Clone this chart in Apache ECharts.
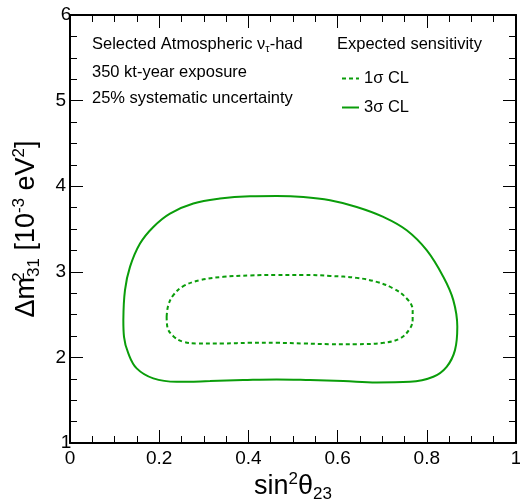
<!DOCTYPE html>
<html><head><meta charset="utf-8">
<script src="https://cdn.jsdelivr.net/npm/echarts@6/dist/echarts.min.js"></script>
<style>html,body{margin:0;padding:0;background:#fff}#c{width:520px;height:499px}</style>
</head><body><div id="c"></div>
<script>
// 3 sigma contour (sin^2 theta23, dm2_31 [1e-3 eV^2])
const sigma3X = [0.1196,0.1233,0.1345,0.157,0.1868,0.2242,0.2765,0.3363,0.4036,0.4634,0.5232,0.583,0.6428,0.7025,0.7549,0.7997,0.837,0.8594,0.8684,0.8632,0.8445,0.8146,0.7623,0.6876,0.6128,0.5381,0.4634,0.3886,0.3139,0.2392,0.1868,0.1495,0.1308,0.1211,0.1196];
const sigma3Y = [2.435,2.785,3.057,3.330,3.524,3.680,3.797,3.855,3.882,3.886,3.874,3.835,3.757,3.641,3.485,3.252,2.941,2.669,2.357,2.085,1.890,1.774,1.715,1.708,1.723,1.735,1.743,1.735,1.723,1.715,1.755,1.872,2.047,2.240,2.435];
// 1 sigma contour
const sigma1X = [0.2167,0.2204,0.2317,0.2541,0.2915,0.3438,0.4036,0.4634,0.5232,0.583,0.6428,0.6876,0.7249,0.7549,0.7683,0.7683,0.7623,0.7399,0.7025,0.6428,0.583,0.5232,0.4634,0.4036,0.3438,0.2841,0.2541,0.2317,0.2182,0.2167];
const sigma1Y = [2.474,2.610,2.727,2.832,2.902,2.941,2.957,2.964,2.964,2.952,2.929,2.882,2.805,2.688,2.552,2.455,2.338,2.222,2.170,2.155,2.155,2.163,2.170,2.170,2.163,2.163,2.182,2.248,2.357,2.474];
const xTicks = ['0','0.2','0.4','0.6','0.8','1'];
const yTicks = ['1','2','3','4','5','6'];

const green = '#0a9d0a';
const font = 'Liberation Sans, Arial, Helvetica, sans-serif';
const zip = (a,b) => a.map((v,i)=>[v,b[i]]);

const chart = echarts.init(document.getElementById('c'), null, {renderer:'canvas'});
const axisCommon = {
  axisLine:{onZero:false, lineStyle:{color:'#000', width:2}},
  axisTick:{inside:true, length:13, lineStyle:{color:'#000', width:1}},
  minorTick:{show:true, splitNumber:4, length:7, lineStyle:{color:'#000', width:1}},
  splitLine:{show:false}
};
const richT = {
  sup:{fontSize:17, fontFamily:font, color:'#000', verticalAlign:'top', padding:[0,0,13,0]},
  supz:{fontSize:17, fontFamily:font, color:'#000', verticalAlign:'top', padding:[0,0,13,0], width:0},
  sub:{fontSize:17, fontFamily:font, color:'#000', verticalAlign:'bottom', padding:[15,0,0,0]}
};
chart.setOption({
  animation:false,
  grid:{left:70, top:15, right:4, bottom:56, containLabel:false, outerBoundsMode:'none'},
  xAxis:[
    Object.assign({type:'value', min:0, max:1, interval:0.2, position:'bottom',
      axisLabel:{color:'#000', fontFamily:font, fontSize:19, margin:6, alignMinLabel:'center', alignMaxLabel:'center',
        formatter:(v)=>xTicks[Math.round(v*5)]},
      name:'sin{sup|2}θ{sub|23}', nameLocation:'middle', nameGap:28, nameMoveOverlap:false,
      nameTextStyle:{color:'#000', fontFamily:font, fontSize:27, rich:richT}
    }, axisCommon),
    Object.assign({type:'value', min:0, max:1, interval:0.2, position:'top', axisLabel:{show:false}}, axisCommon)
  ],
  yAxis:[
    Object.assign({type:'value', min:1, max:6, interval:1, position:'left',
      axisLabel:{color:'#000', fontFamily:font, fontSize:19, margin:4, alignMinLabel:'center', alignMaxLabel:'center',
        formatter:(v)=>yTicks[Math.round(v)-1]},
      name:'Δm{supz|2}{sub|31} [10{sup|-3} eV{sup|2}]', nameLocation:'middle', nameGap:27, nameRotate:90,
      nameTextStyle:{color:'#000', fontFamily:font, fontSize:27, rich:richT}
    }, axisCommon),
    Object.assign({type:'value', min:1, max:6, interval:1, position:'right', axisLabel:{show:false}}, axisCommon)
  ],
  legend:{
    left:336, top:65, orient:'vertical', itemWidth:17, itemHeight:14, itemGap:12,
    itemStyle:{opacity:0},
    textStyle:{color:'#000', fontFamily:font, fontSize:16.5},
    data:['1σ CL','3σ CL']
  },
  graphic:[
    {type:'text', left:92, top:36, style:{text:'Selected Atmospheric ν{s|τ}-had', fill:'#000', font:'16.5px '+font,
      rich:{s:{fontSize:11, fontFamily:font, fill:'#000', verticalAlign:'bottom', padding:[9,0,0,0]}}}},
    {type:'text', left:92, top:64, style:{text:'350 kt-year exposure', fill:'#000', font:'16.5px '+font}},
    {type:'text', left:92, top:90, style:{text:'25% systematic uncertainty', fill:'#000', font:'16.5px '+font}},
    {type:'text', left:337, top:36, style:{text:'Expected sensitivity', fill:'#000', font:'16.5px '+font}}
  ],
  series:[
    {name:'1σ CL', type:'line', data:zip(sigma1X,sigma1Y), smooth:0.4, symbol:'none',
      lineStyle:{color:green, width:2, type:[4,3]}, itemStyle:{color:green}},
    {name:'3σ CL', type:'line', data:zip(sigma3X,sigma3Y), smooth:0.4, symbol:'none',
      lineStyle:{color:green, width:2}, itemStyle:{color:green}}
  ]
});
</script></body></html>
